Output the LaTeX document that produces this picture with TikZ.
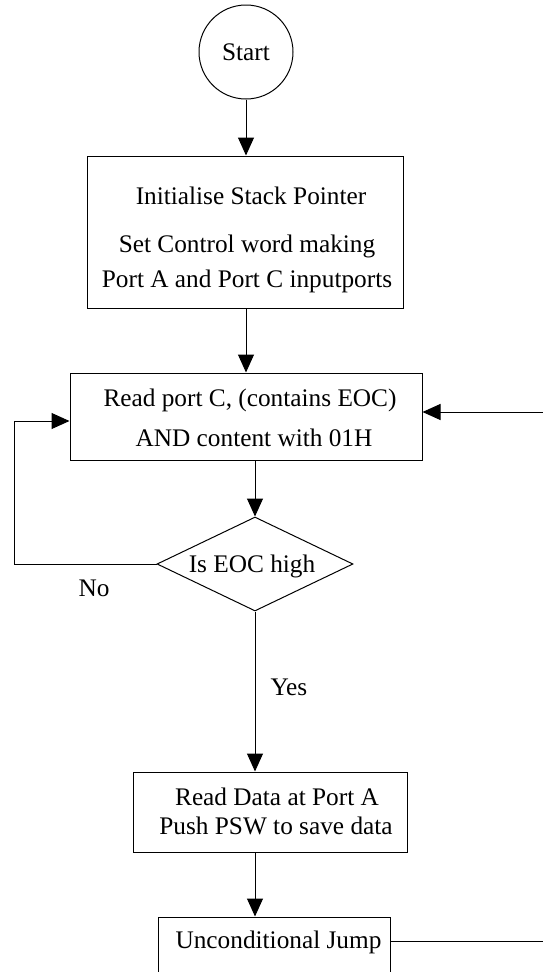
\documentclass[tikz,border=0pt]{standalone}
\usepackage{fontspec}
\setmainfont{Liberation Serif}
\usetikzlibrary{arrows.meta,shapes.geometric}
\begin{document}
\begin{tikzpicture}[x=1pt,y=-1pt,line width=1pt,
  >={Triangle[length=18pt,width=16pt]},
  every node/.style={font=\fontsize{25.3}{30}\selectfont},
  blk/.style={draw,rectangle,inner sep=0pt},
  lbl/.style={anchor=base,inner sep=0pt}]
\useasboundingbox (0,0) rectangle (543,972);
\clip (0,0) rectangle (543,972);

% start terminal
\node[draw,circle,minimum size=94pt,inner sep=0pt] (start) at (246,52) {Start};

% initialisation block
\node[blk,minimum width=316pt,minimum height=152pt] (init) at (245,232) {};
\node[lbl] (t1a) at (251,204) {Initialise Stack Pointer};
\node[lbl] (t1b) at (247,252) {Set Control word making};
\node[lbl] (t1c) at (247,287) {Port A and Port C inputports};

% read port C block
\node[blk,minimum width=352pt,minimum height=87pt] (readc) at (246,416.5) {};
\node[lbl] (t2a) at (250,406) {Read port C, (contains EOC)};
\node[lbl] (t2b) at (254,446) {AND content with 01H};

% EOC decision
\node[draw,diamond,minimum width=196pt,minimum height=94pt,inner sep=0pt] (eoc) at (255,564) {};
\node[lbl] (t3) at (252,572) {Is EOC high};

% read data block
\node[blk,minimum width=274pt,minimum height=80pt] (readd) at (270,812) {};
\node[lbl] (t4a) at (277,805) {Read Data at Port A};
\node[lbl] (t4b) at (276,834) {Push PSW to save data};

% jump block
\node[blk,minimum width=232pt,minimum height=140pt] (jump) at (274,987) {};
\node[lbl] (t5) at (278.5,948.5) {Unconditional Jump};

% connectors
\draw[->] (start.south) -- (start.south |- init.north);
\draw[->] (init.south -| start) -- (readc.north -| start);
\draw[->] (readc.south -| eoc) -- (eoc.north);

\coordinate (loopL) at (14,421);
\draw[->] (eoc.west) -| (loopL) -- (loopL -| readc.west);
\node[lbl,anchor=base west] (no) at (78,596) {No};

\draw[->] (eoc.south) -- (eoc.south |- readd.north);
\node[lbl,anchor=base west] (yes) at (270,695) {Yes};

\draw[->] (readd.south -| eoc) -- (jump.north -| eoc);

\coordinate (retB) at (560,941);
\coordinate (retT) at (560,412);
\draw[->] (jump.east |- retB) -- (retB) -- (retT) -- (readc.east |- retT);
\end{tikzpicture}
\end{document}
